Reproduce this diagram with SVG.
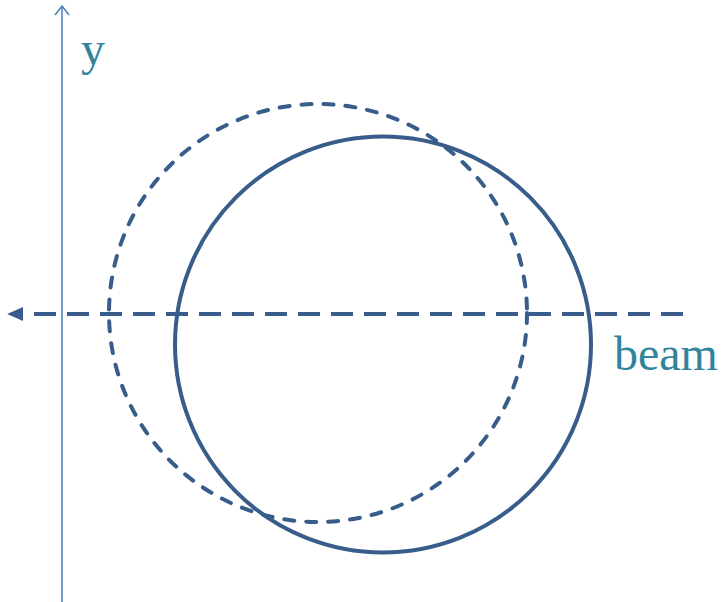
<svg xmlns="http://www.w3.org/2000/svg" width="723" height="602" viewBox="0 0 723 602">
<defs>
<style>
.lbl{font-family:"Liberation Serif","Times New Roman",serif;font-size:48px;fill:#31849B}
.c{fill:none;stroke:#385D8A;stroke-width:4}
</style>
<marker id="ah" viewBox="0 0 10 10" refX="2" refY="5" markerWidth="4" markerHeight="3.5" orient="auto-start-reverse" markerUnits="strokeWidth" preserveAspectRatio="none">
<path d="M0,0 L10,5 L0,10 z" fill="#385D8A"/>
</marker>
</defs>
<g id="connectors">
<line x1="62" y1="602" x2="62" y2="6" stroke="#4A7EBB" stroke-width="1.5"/>
<polyline points="55,15 62,6 69,15" fill="none" stroke="#4A7EBB" stroke-width="1.5"/>
<line x1="683" y1="314" x2="20" y2="314" stroke="#385D8A" stroke-width="4" stroke-dasharray="22 11" marker-end="url(#ah)"/>
</g>
<g id="dashed-circle"><circle class="c" cx="318" cy="313" r="209" stroke-dasharray="10 12" stroke-linecap="round"/></g>
<g id="solid-circle"><circle class="c" cx="383" cy="344.5" r="208"/></g>
<g id="label-y"><text class="lbl" x="81" y="65">y</text></g>
<g id="label-beam"><text class="lbl" x="614" y="370">beam</text></g>
</svg>
